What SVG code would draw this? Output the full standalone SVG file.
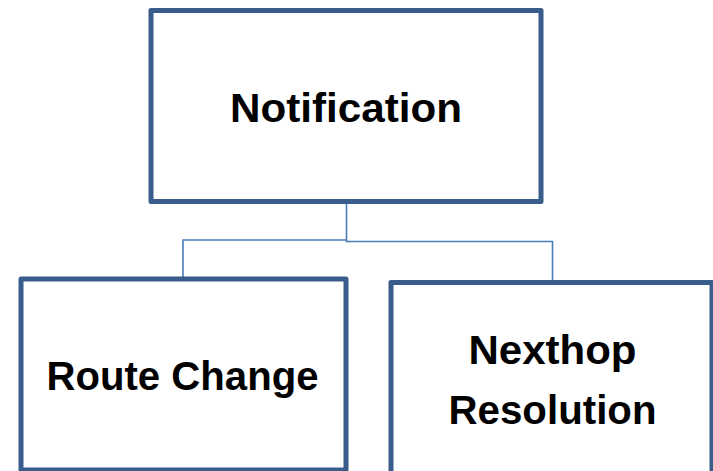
<svg xmlns="http://www.w3.org/2000/svg" width="713" height="471" viewBox="0 0 713 471">
<style>
.box{fill:#ffffff;stroke:#385D8A;stroke-width:5;stroke-linejoin:round}
.lbl{font-family:"Liberation Sans",Arial,sans-serif;font-weight:bold;font-size:41px;fill:#000000;text-anchor:middle}
.conn{fill:none;stroke:#4A7EBB;stroke-width:1.6}
</style>
<rect width="713" height="471" fill="#ffffff"/>
<g id="connectors">
<path class="conn" d="M346.5,204 V240 H183 V277"/>
<path class="conn" d="M346.5,240 V241.5 H552.5 V281"/>
</g>
<g id="notification">
<rect class="box" x="151" y="10.5" width="390" height="191"/>
<text class="lbl" x="346" y="121.5" textLength="232" lengthAdjust="spacingAndGlyphs">Notification</text>
</g>
<g id="route-change">
<rect class="box" x="21" y="279" width="325" height="191"/>
<text class="lbl" x="182.5" y="390" textLength="272" lengthAdjust="spacingAndGlyphs">Route Change</text>
</g>
<g id="nexthop-resolution">
<rect class="box" x="391" y="282.5" width="321" height="210"/>
<text class="lbl" x="552.5" y="363.5" textLength="168" lengthAdjust="spacingAndGlyphs">Nexthop</text>
<text class="lbl" x="552.5" y="423.5" textLength="208" lengthAdjust="spacingAndGlyphs">Resolution</text>
</g>
</svg>
